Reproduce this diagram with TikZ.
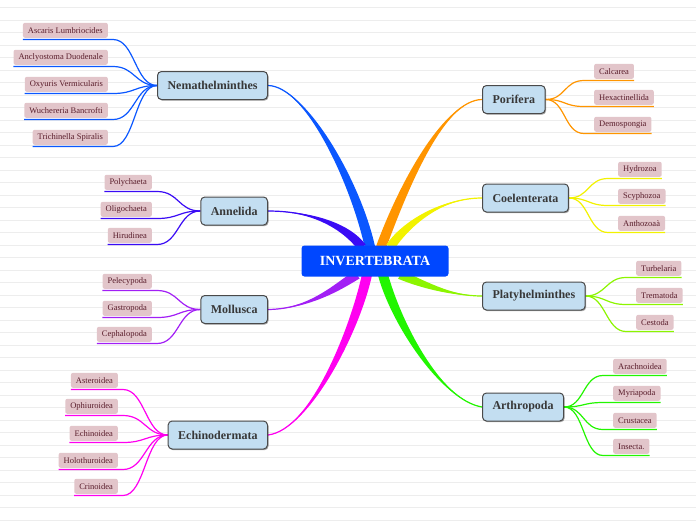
\documentclass[tikz,border=0pt]{standalone}
\usepackage{fontspec}
\setmainfont{Liberation Serif}
\usetikzlibrary{calc,shadows,backgrounds}

\definecolor{rootblue}{HTML}{0047FF}
\definecolor{taxonfill}{HTML}{C3DEF1}
\definecolor{taxonline}{HTML}{4A4A4A}
\definecolor{taxontext}{HTML}{383838}
\definecolor{leaffill}{HTML}{E2C5CA}
\definecolor{leaftext}{HTML}{5A1E2C}
\definecolor{rulegrey}{HTML}{EDEDED}
\definecolor{nemablue}{HTML}{0B57FF}
\definecolor{anneviolet}{HTML}{3A0BF5}
\definecolor{mollpurple}{HTML}{A21FF5}
\definecolor{echimagenta}{HTML}{FF00F0}
\definecolor{poriorange}{HTML}{FF9500}
\definecolor{coelyellow}{HTML}{F2F200}
\definecolor{platylime}{HTML}{8CF500}
\definecolor{arthgreen}{HTML}{22F500}

\tikzset{
  root/.style={fill=rootblue, rounded corners=3pt, text=white,
    font=\fontsize{14}{16}\selectfont\bfseries, minimum width=147, minimum height=31, inner sep=0},
  taxon/.style={fill=taxonfill, draw=taxonline, line width=1pt, rounded corners=4pt, text=taxontext,
    font=\fontsize{12}{14}\selectfont\bfseries, minimum height=28, inner xsep=10, inner ysep=0,
    drop shadow={shadow xshift=1pt, shadow yshift=-1.2pt, opacity=0.35, fill=black}},
  leaf/.style={fill=leaffill, rounded corners=2pt, text=leaftext,
    font=\fontsize{8.5}{9}\selectfont, minimum height=15, inner xsep=5, inner ysep=0},
  twig/.style={line width=1.2pt},
}

% tapered limb: colour, thin end, ctrl near thin end, ctrl near thick end, thick end, half width
\newcommand{\limb}[6]{%
  \fill[#1] (#2) .. controls (#3) and ($(#4)-(#6)$) .. ($(#5)-(#6)$)
    -- ($(#5)+(#6)$) .. controls ($(#4)+(#6)$) and (#3) .. (#2) -- cycle;
  \draw[#1, line width=1.2pt] (#2) .. controls (#3) and (#4) .. (#5);}

\begin{document}
\begin{tikzpicture}[x=1pt, y=-1pt]
\useasboundingbox (0,0) rectangle (696,520);

% centre and the eight groups
\node[root] (root) at (375,261) {INVERTEBRATA};

\node[taxon, anchor=east] (nema) at (268,85.5) {Nemathelminthes};
\node[taxon, anchor=east] (anne) at (268,211) {Annelida};
\node[taxon, anchor=east] (moll) at (268,309.5) {Mollusca};
\node[taxon, anchor=east] (echi) at (268,435) {Echinodermata};
\node[taxon, anchor=west] (pori) at (482,99.5) {Porifera};
\node[taxon, anchor=west] (coel) at (482,198) {Coelenterata};
\node[taxon, anchor=west] (platy) at (482,296) {Platyhelminthes};
\node[taxon, anchor=west] (arth) at (482,407) {Arthropoda};

% left leaves
\node[leaf, anchor=south east] (nema1) at (108,38) {Ascaris Lumbriocides};
\node[leaf, anchor=south east] (nema2) at (108,65) {Anclyostoma Duodenale};
\node[leaf, anchor=south east] (nema3) at (108,92) {Oxyuris Vermicularis};
\node[leaf, anchor=south east] (nema4) at (108,118) {Wuchereria Bancrofti};
\node[leaf, anchor=south east] (nema5) at (108,145) {Trichinella Spiralis};

\node[leaf, anchor=south east] (anne1) at (152,190) {Polychaeta};
\node[leaf, anchor=south east] (anne2) at (152,217) {Oligochaeta};
\node[leaf, anchor=south east] (anne3) at (152,243) {Hirudinea};

\node[leaf, anchor=south east] (moll1) at (152,289) {Pelecypoda};
\node[leaf, anchor=south east] (moll2) at (152,316) {Gastropoda};
\node[leaf, anchor=south east] (moll3) at (152,342) {Cephalopoda};

\node[leaf, anchor=south east] (echi1) at (118,388) {Asteroidea};
\node[leaf, anchor=south east] (echi2) at (118,414) {Ophiuroidea};
\node[leaf, anchor=south east] (echi3) at (118,441) {Echinoidea};
\node[leaf, anchor=south east] (echi4) at (118,468) {Holothuroidea};
\node[leaf, anchor=south east] (echi5) at (118,494) {Crinoidea};

% right leaves
\node[leaf, anchor=south west] (pori1) at (594,79) {Calcarea};
\node[leaf, anchor=south west] (pori2) at (594,105) {Hexactinellida};
\node[leaf, anchor=south west] (pori3) at (594,132) {Demospongia};

\node[leaf, anchor=south west] (coel1) at (618,177) {Hydrozoa};
\node[leaf, anchor=south west] (coel2) at (618,204) {Scyphozoa};
\node[leaf, anchor=south west] (coel3) at (618,231) {Anthozoaà};

\node[leaf, anchor=south west] (platy1) at (636,276) {Turbelaria};
\node[leaf, anchor=south west] (platy2) at (636,303) {Trematoda};
\node[leaf, anchor=south west] (platy3) at (636,330) {Cestoda};

\node[leaf, anchor=south west] (arth1) at (613,374) {Arachnoidea};
\node[leaf, anchor=south west] (arth2) at (613,401) {Myriapoda};
\node[leaf, anchor=south west] (arth3) at (613,428) {Crustacea};
\node[leaf, anchor=south west] (arth4) at (613,454) {Insecta.};

\begin{scope}[on background layer]
% ruled paper
\foreach \k in {0,...,41}
  \draw[rulegrey, line width=0.8pt] (0,7.5+12.5*\k) -- (696,7.5+12.5*\k);

% limbs from the centre
\coordinate (nema-in) at ($(root.north)+(-5,2)$);
\coordinate (anne-in) at ($(root.north)+(-13,2)$);
\coordinate (pori-in) at ($(root.north)+(6,2)$);
\coordinate (coel-in) at ($(root.north)+(15,2)$);
\coordinate (moll-in) at ($(root.south)+(-18,-2)$);
\coordinate (echi-in) at ($(root.south)+(-8,-2)$);
\coordinate (arth-in) at ($(root.south)+(8,-2)$);
\coordinate (platy-in) at ($(root.south)+(25,-2)$);

\limb{nemablue}{nema.east}{305,86}{355,180}{nema-in}{5,-1}
\limb{anneviolet}{anne.east}{310,211}{345,225}{anne-in}{3.6,-2.8}
\limb{mollpurple}{moll.east}{310,309}{340,285}{moll-in}{2.5,3.8}
\limb{echimagenta}{echi.east}{310,430}{355,330}{echi-in}{4.9,1}
\limb{poriorange}{pori.west}{445,100}{405,182}{pori-in}{4.7,1.7}
\limb{coelyellow}{coel.west}{440,198}{405,225}{coel-in}{3.6,2.7}
\limb{platylime}{platy.west}{450,296}{420,283}{platy-in}{1.8,-4.1}
\limb{arthgreen}{arth.west}{440,400}{395,320}{arth-in}{4.8,-1.3}

% twigs on the left
\draw[twig, nemablue] ([yshift=-1.5pt]nema1.south west) -- ([xshift=5pt,yshift=-1.5pt]nema1.south east) .. controls +(22,0) and +(-22,0) .. (nema.west);
\draw[twig, nemablue] ([yshift=-1.5pt]nema2.south west) -- ([xshift=5pt,yshift=-1.5pt]nema2.south east) .. controls +(22,0) and +(-22,0) .. (nema.west);
\draw[twig, nemablue] ([yshift=-1.5pt]nema3.south west) -- ([xshift=5pt,yshift=-1.5pt]nema3.south east) .. controls +(22,0) and +(-22,0) .. (nema.west);
\draw[twig, nemablue] ([yshift=-1.5pt]nema4.south west) -- ([xshift=5pt,yshift=-1.5pt]nema4.south east) .. controls +(22,0) and +(-22,0) .. (nema.west);
\draw[twig, nemablue] ([yshift=-1.5pt]nema5.south west) -- ([xshift=5pt,yshift=-1.5pt]nema5.south east) .. controls +(22,0) and +(-22,0) .. (nema.west);

\draw[twig, anneviolet] ([yshift=-1.5pt]anne1.south west) -- ([xshift=5pt,yshift=-1.5pt]anne1.south east) .. controls +(22,0) and +(-22,0) .. (anne.west);
\draw[twig, anneviolet] ([yshift=-1.5pt]anne2.south west) -- ([xshift=5pt,yshift=-1.5pt]anne2.south east) .. controls +(22,0) and +(-22,0) .. (anne.west);
\draw[twig, anneviolet] ([yshift=-1.5pt]anne3.south west) -- ([xshift=5pt,yshift=-1.5pt]anne3.south east) .. controls +(22,0) and +(-22,0) .. (anne.west);

\draw[twig, mollpurple] ([yshift=-1.5pt]moll1.south west) -- ([xshift=5pt,yshift=-1.5pt]moll1.south east) .. controls +(22,0) and +(-22,0) .. (moll.west);
\draw[twig, mollpurple] ([yshift=-1.5pt]moll2.south west) -- ([xshift=5pt,yshift=-1.5pt]moll2.south east) .. controls +(22,0) and +(-22,0) .. (moll.west);
\draw[twig, mollpurple] ([yshift=-1.5pt]moll3.south west) -- ([xshift=5pt,yshift=-1.5pt]moll3.south east) .. controls +(22,0) and +(-22,0) .. (moll.west);

\draw[twig, echimagenta] ([yshift=-1.5pt]echi1.south west) -- ([xshift=5pt,yshift=-1.5pt]echi1.south east) .. controls +(22,0) and +(-22,0) .. (echi.west);
\draw[twig, echimagenta] ([yshift=-1.5pt]echi2.south west) -- ([xshift=5pt,yshift=-1.5pt]echi2.south east) .. controls +(22,0) and +(-22,0) .. (echi.west);
\draw[twig, echimagenta] ([yshift=-1.5pt]echi3.south west) -- ([xshift=5pt,yshift=-1.5pt]echi3.south east) .. controls +(22,0) and +(-22,0) .. (echi.west);
\draw[twig, echimagenta] ([yshift=-1.5pt]echi4.south west) -- ([xshift=5pt,yshift=-1.5pt]echi4.south east) .. controls +(22,0) and +(-22,0) .. (echi.west);
\draw[twig, echimagenta] ([yshift=-1.5pt]echi5.south west) -- ([xshift=5pt,yshift=-1.5pt]echi5.south east) .. controls +(22,0) and +(-22,0) .. (echi.west);

% twigs on the right
\draw[twig, poriorange] ([yshift=-1.5pt]pori1.south east) -- ([xshift=-10pt,yshift=-1.5pt]pori1.south west) .. controls +(-20,0) and +(20,0) .. (pori.east);
\draw[twig, poriorange] ([yshift=-1.5pt]pori2.south east) -- ([xshift=-10pt,yshift=-1.5pt]pori2.south west) .. controls +(-20,0) and +(20,0) .. (pori.east);
\draw[twig, poriorange] ([yshift=-1.5pt]pori3.south east) -- ([xshift=-10pt,yshift=-1.5pt]pori3.south west) .. controls +(-20,0) and +(20,0) .. (pori.east);

\draw[twig, coelyellow] ([yshift=-1.5pt]coel1.south east) -- ([xshift=-10pt,yshift=-1.5pt]coel1.south west) .. controls +(-20,0) and +(20,0) .. (coel.east);
\draw[twig, coelyellow] ([yshift=-1.5pt]coel2.south east) -- ([xshift=-10pt,yshift=-1.5pt]coel2.south west) .. controls +(-20,0) and +(20,0) .. (coel.east);
\draw[twig, coelyellow] ([yshift=-1.5pt]coel3.south east) -- ([xshift=-10pt,yshift=-1.5pt]coel3.south west) .. controls +(-20,0) and +(20,0) .. (coel.east);

\draw[twig, platylime] ([yshift=-1.5pt]platy1.south east) -- ([xshift=-10pt,yshift=-1.5pt]platy1.south west) .. controls +(-20,0) and +(20,0) .. (platy.east);
\draw[twig, platylime] ([yshift=-1.5pt]platy2.south east) -- ([xshift=-10pt,yshift=-1.5pt]platy2.south west) .. controls +(-20,0) and +(20,0) .. (platy.east);
\draw[twig, platylime] ([yshift=-1.5pt]platy3.south east) -- ([xshift=-10pt,yshift=-1.5pt]platy3.south west) .. controls +(-20,0) and +(20,0) .. (platy.east);

\draw[twig, arthgreen] ([yshift=-1.5pt]arth1.south east) -- ([xshift=-10pt,yshift=-1.5pt]arth1.south west) .. controls +(-20,0) and +(20,0) .. (arth.east);
\draw[twig, arthgreen] ([yshift=-1.5pt]arth2.south east) -- ([xshift=-10pt,yshift=-1.5pt]arth2.south west) .. controls +(-20,0) and +(20,0) .. (arth.east);
\draw[twig, arthgreen] ([yshift=-1.5pt]arth3.south east) -- ([xshift=-10pt,yshift=-1.5pt]arth3.south west) .. controls +(-20,0) and +(20,0) .. (arth.east);
\draw[twig, arthgreen] ([yshift=-1.5pt]arth4.south east) -- ([xshift=-10pt,yshift=-1.5pt]arth4.south west) .. controls +(-20,0) and +(20,0) .. (arth.east);
\end{scope}
\end{tikzpicture}
\end{document}
